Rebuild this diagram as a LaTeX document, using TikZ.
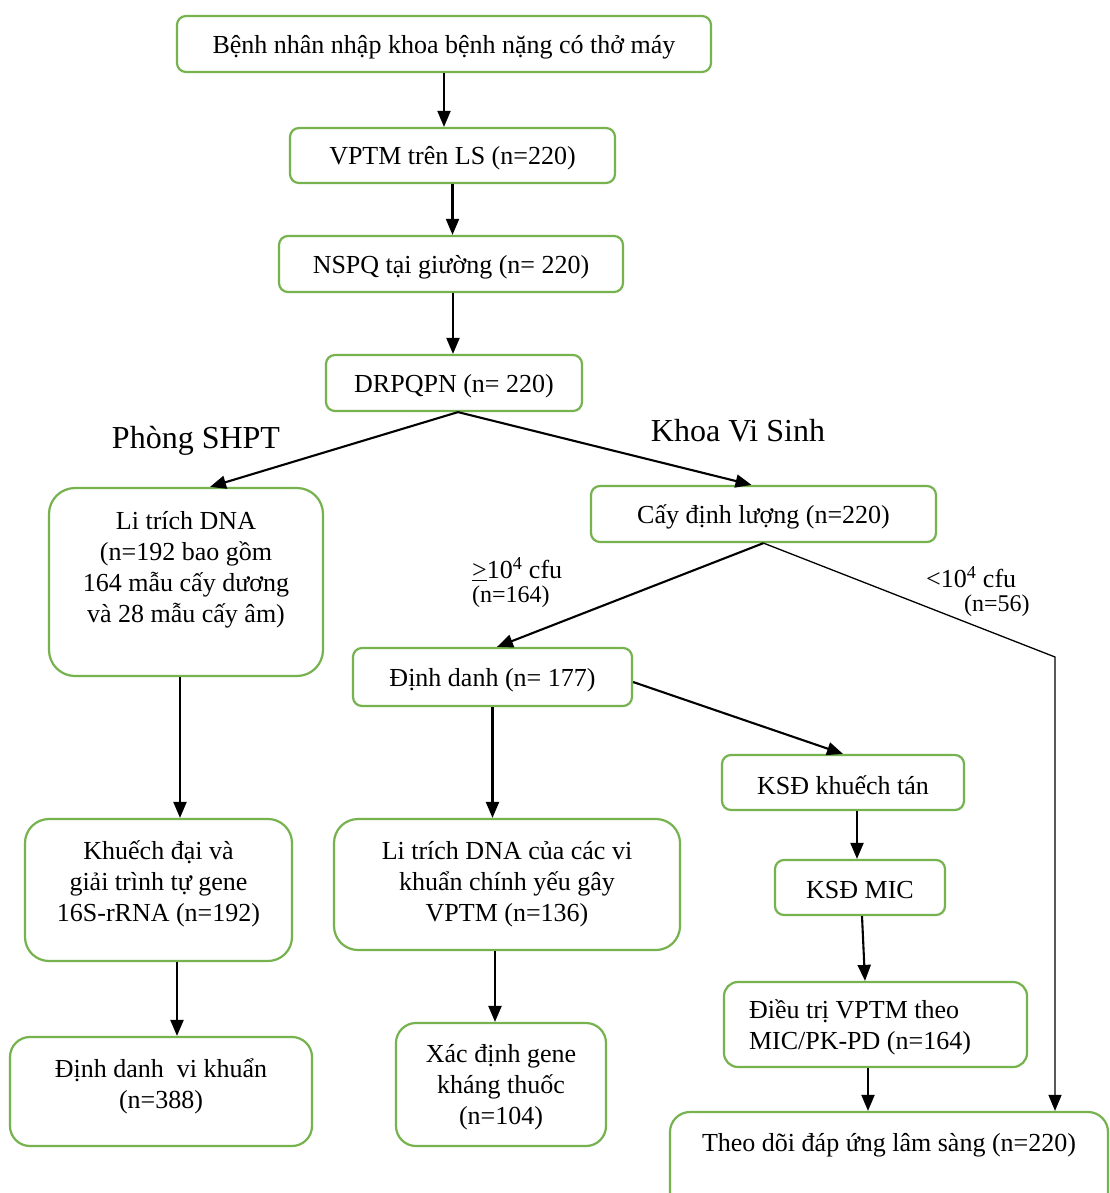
\documentclass[tikz,border=0pt]{standalone}
\usepackage{fontspec}
\setmainfont{Liberation Serif}
\usetikzlibrary{arrows.meta}
\definecolor{boxgreen}{RGB}{118,178,78}
% fixed-size text area: width, height, upward shift (twice the offset), content
\newcommand\bxtext[4]{\parbox[c][#2][c]{#1}{\centering #4\par\vspace*{\dimexpr#3-6pt\relax}}}
\begin{document}
\begin{tikzpicture}[x=1pt,y=-1pt,
  box/.style={draw=boxgreen,line width=2.2pt,rounded corners=#1,inner sep=0pt,fill=white,
    font=\fontsize{26}{31}\selectfont},
  box/.default=9pt,
  tip/.tip={Triangle[length=16pt,width=13pt]},
  arr/.style={draw=black,line width=2.1pt,-tip},
  thin/.style={draw=black,line width=1.3pt},
  lbl/.style={inner sep=0pt,font=\fontsize{32}{36}\selectfont},
  big/.style={inner sep=0pt,font=\fontsize{26}{30}\selectfont},
  small/.style={inner sep=0pt,font=\fontsize{24}{28}\selectfont}]
\clip (0,0) rectangle (1110,1193);
\fill[white] (0,0) rectangle (1110,1193);

% main column
\node[box] (top)  at (444,44)    {\bxtext{534pt}{56pt}{0pt}{Bệnh nhân nhập khoa bệnh nặng có thở máy}};
\node[box] (vptm) at (452.5,155.5) {\bxtext{325pt}{55pt}{0pt}{VPTM trên LS (n=220)}};
\node[box] (nspq) at (451,264)   {\bxtext{344pt}{56pt}{0pt}{NSPQ tại giường (n= 220)}};
\node[box] (drp)  at (454,383)   {\bxtext{256pt}{56pt}{0pt}{DRPQPN (n= 220)}};

% molecular biology branch
\node[box=26pt] (dna)  at (186,582)   {\bxtext{274pt}{188pt}{30pt}{Li trích DNA\\(n=192 bao gồm\\164 mẫu cấy dương\\và 28 mẫu cấy âm)}};
\node[box=24pt] (kd)   at (158.5,890) {\bxtext{267pt}{142pt}{18pt}{Khuếch đại và\\giải trình tự gene\\16S-rRNA (n=192)}};
\node[box=20pt] (ddvk) at (161,1091.5) {\bxtext{302pt}{109pt}{17pt}{Định danh\ \ vi khuẩn\\(n=388)}};

% microbiology branch
\node[box] (cay)   at (763.5,514) {\bxtext{345pt}{56pt}{0pt}{Cấy định lượng (n=220)}};
\node[box] (dd)    at (492.5,677) {\bxtext{279pt}{58pt}{0pt}{Định danh (n= 177)}};
\node[box=24pt] (ltc) at (507,884.5) {\bxtext{346pt}{131pt}{7pt}{Li trích DNA của các vi\\khuẩn chính yếu gây\\VPTM (n=136)}};
\node[box=20pt] (xd)  at (501,1084.5) {\bxtext{210pt}{123pt}{0pt}{Xác định gene\\kháng thuốc\\(n=104)}};
\node[box] (ksdkt) at (843,782.5) {\bxtext{242pt}{55pt}{0pt}{KSĐ khuếch tán}};
\node[box] (mic)   at (860,887.5) {\bxtext{170pt}{55pt}{0pt}{KSĐ MIC}};
\node[box=14pt] (dtri) at (875.5,1024.5) {\parbox[c][85pt][c]{303pt}{\raggedright\leftskip=25pt Điều trị VPTM theo\\MIC/PK-PD (n=164)\par\vspace*{-6pt}}};
\node[box=20pt] (theo) at (889,1163.5) {\bxtext{438pt}{103pt}{43pt}{Theo dõi đáp ứng lâm sàng (n=220)}};

% branch labels
\node[lbl] (shpt) at (196,441) {Phòng SHPT};
\node[lbl] (kvs)  at (738,431) {Khoa Vi Sinh};
\node[big,anchor=west]   (ge)   at (472,569) {\underline{>}10\textsuperscript{4} cfu};
\node[small,anchor=west] (gen)  at (472,597) {(n=164)};
\node[big,anchor=west]   (lt)   at (926,577) {<10\textsuperscript{4} cfu};
\node[small,anchor=west] (ltn)  at (964,606) {(n=56)};

% connectors
\draw[arr] (top.south) -- (top.south |- vptm.north);
\draw[arr] (vptm.south) -- (vptm.south |- nspq.north);
\draw[arr] ([xshift=2pt]nspq.south) -- ([xshift=2pt]nspq.south |- drp.north);
\draw[arr] ([xshift=4pt]drp.south) -- ([xshift=24pt]dna.north);
\draw[arr] ([xshift=4pt]drp.south) -- ([xshift=-12pt]cay.north);
\draw[arr] (cay.south) -- ([xshift=4.5pt]dd.north);
\coordinate (bend) at (1055,657);
\draw[thin,-tip] (cay.south) -- (bend) -- (bend |- theo.north);
\draw[arr] ([yshift=-5pt]dd.east) -- (ksdkt.north);
\draw[arr] (dd.south) -- (dd.south |- ltc.north);
\draw[arr] ([xshift=-6pt]dna.south) -- ([xshift=-6pt]dna.south |- kd.north);
\draw[arr] ([xshift=18.5pt]kd.south) -- ([xshift=18.5pt]kd.south |- ddvk.north);
\draw[arr] ([xshift=-12pt]ltc.south) -- ([xshift=-12pt]ltc.south |- xd.north);
\draw[arr] ([xshift=14pt]ksdkt.south) -- ([xshift=14pt]ksdkt.south |- mic.north);
\draw[arr] ([xshift=2pt]mic.south) -- ([xshift=-10.5pt]dtri.north);
\draw[arr] ([xshift=-7.5pt]dtri.south) -- ([xshift=-7.5pt]dtri.south |- theo.north);
\end{tikzpicture}
\end{document}
